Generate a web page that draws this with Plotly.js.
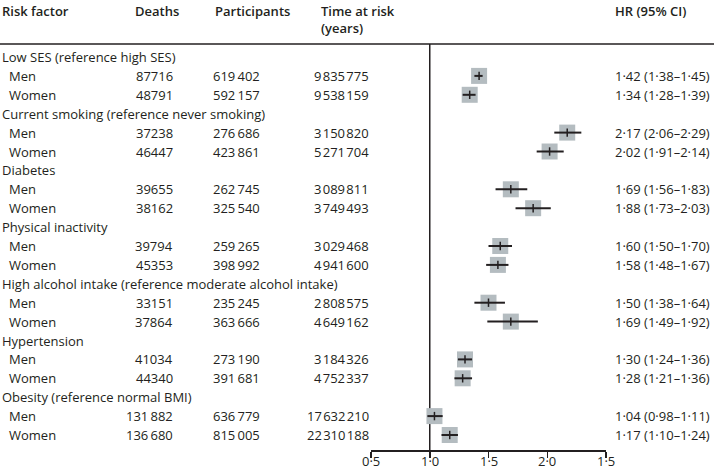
<!DOCTYPE html>
<html>
<head>
<meta charset="utf-8">
<script src="https://cdn.plot.ly/plotly-3.0.1.min.js"></script>
<style>html,body{margin:0;padding:0;background:#fff;}#chart{width:714px;height:470px;}</style>
</head>
<body>
<div id="chart"></div>
<script>
// ---- data ----
const groups = [
  "Low SES (reference high SES)",
  "Current smoking (reference never smoking)",
  "Diabetes",
  "Physical inactivity",
  "High alcohol intake (reference moderate alcohol intake)",
  "Hypertension",
  "Obesity (reference normal BMI)"
];
const sexes = ["Men", "Women"];
const deaths = [87716, 48791, 37238, 46447, 39655, 38162, 39794, 45353, 33151, 37864, 41034, 44340, 131882, 136680];
const participants = [619402, 592157, 276686, 423861, 262745, 325540, 259265, 398992, 235245, 363666, 273190, 391681, 636779, 815005];
const timeAtRisk = [9835775, 9538159, 3150820, 5271704, 3089811, 3749493, 3029468, 4941600, 2808575, 4649162, 3184326, 4752337, 17632210, 22310188];
const hr = [1.42, 1.34, 2.17, 2.02, 1.69, 1.88, 1.60, 1.58, 1.50, 1.69, 1.30, 1.28, 1.04, 1.17];
const ciLow = [1.38, 1.28, 2.06, 1.91, 1.56, 1.73, 1.50, 1.48, 1.38, 1.49, 1.24, 1.21, 0.98, 1.10];
const ciHigh = [1.45, 1.39, 2.29, 2.14, 1.83, 2.03, 1.70, 1.67, 1.64, 1.92, 1.36, 1.36, 1.11, 1.24];
const tickVals = [0.5, 1.0, 1.5, 2.0, 2.5];
const tickText = ["0·5", "1·0", "1·5", "2·0", "1·5"];
const headers = ["Risk factor", "Deaths", "Participants", "Time at risk<br>(years)", "HR (95% CI)"];

// ---- helpers ----
const W = 714, H = 470;
const FONT = "'Open Sans', 'Noto Sans', sans-serif";
const FS = 13;
const TXT = "#231f20";
function grp(n, sep) {
  const s = String(n);
  if (n < 100000) return s;
  return s.replace(/\B(?=(\d{3})+(?!\d))/g, sep);
}
function dec(v) { return v.toFixed(2).replace(".", "·"); }

// row indices
const rowY = [];
const headerY = [];
let r = 0;
groups.forEach(() => {
  headerY.push(r); r++;
  sexes.forEach(() => { rowY.push(r); r++; });
});

// pixel geometry
const rowTop = 57, rowStep = 18.9;
const plotTopPx = 44, plotBotPx = 450;
const yTopVal = (plotTopPx - rowTop) / rowStep;
const yBotVal = (plotBotPx - rowTop) / rowStep;
const xLeftPx = 371, xRightPx = 606;

const annotations = [];
function ann(text, xpx, y, anchor) {
  annotations.push({
    text: text, xref: "paper", x: xpx / W, yref: "y", y: y,
    xanchor: anchor, yanchor: "middle", showarrow: false,
    font: {family: FONT, size: FS, color: TXT}
  });
}

// headers
const hdrFont = {family: FONT, size: FS, color: TXT, weight: 600};
const hdrX = [0, 133, 213, 319, 613];
headers.forEach((h, i) => {
  annotations.push({
    text: h, xref: "paper", x: hdrX[i] / W, yref: "paper", y: 1,
    xanchor: "left", yanchor: "top", align: "left", showarrow: false,
    font: hdrFont
  });
});

groups.forEach((g, gi) => ann(g, 0, headerY[gi], "left"));
rowY.forEach((y, i) => {
  ann(sexes[i % 2], 7, y, "left");
  ann(grp(deaths[i], "\u2009"), 175, y, "right");
  ann(grp(participants[i], "\u2009"), 262, y, "right");
  ann(grp(timeAtRisk[i], "\u200A"), 371, y, "right");
  ann(dec(hr[i]) + " (" + dec(ciLow[i]) + "–" + dec(ciHigh[i]) + ")", 613, y, "left");
});

// axis tick labels (placed through the x scale)
tickVals.forEach((v, i) => {
  annotations.push({
    text: tickText[i], xref: "x", x: v, yref: "paper", y: (H - 461) / H,
    xanchor: "center", yanchor: "middle", showarrow: false, borderpad: 0,
    font: {family: FONT, size: FS, color: TXT}
  });
});

const traces = [
  {
    type: "scatter", mode: "markers", x: hr, y: rowY, hoverinfo: "skip",
    marker: {symbol: "square", size: 16, color: "#b4bcc0", line: {width: 0}},
    showlegend: false
  },
  {
    type: "scatter", mode: "markers", x: hr, y: rowY, hoverinfo: "skip",
    marker: {symbol: "line-ns", size: 6, color: TXT, line: {width: 1.5, color: TXT}},
    error_x: {type: "data", symmetric: false,
      array: hr.map((v, i) => ciHigh[i] - v),
      arrayminus: hr.map((v, i) => v - ciLow[i]),
      thickness: 2, width: 0, color: TXT},
    showlegend: false
  }
];

const layout = {
  width: W, height: H,
  margin: {l: 0, r: 0, t: 0, b: 0},
  paper_bgcolor: "#fff", plot_bgcolor: "rgba(0,0,0,0)",
  font: {family: FONT, size: FS, color: TXT},
  showlegend: false,
  xaxis: {
    domain: [xLeftPx / W, xRightPx / W],
    range: [0.5, 2.5], tickvals: tickVals, showticklabels: false,
    showgrid: false, zeroline: false, showline: true, linecolor: TXT, linewidth: 1.5,
    ticks: "outside", ticklen: 6, tickwidth: 1.5, tickcolor: TXT, fixedrange: true
  },
  yaxis: {
    domain: [(H - plotBotPx) / H, (H - plotTopPx) / H],
    range: [yBotVal, yTopVal], visible: false, showgrid: false, zeroline: false, fixedrange: true
  },
  shapes: [
    {type: "line", xref: "paper", yref: "paper", x0: 0, x1: 1,
     y0: (H - plotTopPx) / H, y1: (H - plotTopPx) / H, line: {color: TXT, width: 1.5}},
    {type: "line", xref: "x", yref: "paper", x0: 1, x1: 1,
     y0: (H - plotBotPx) / H, y1: (H - plotTopPx) / H, line: {color: TXT, width: 1.5}, layer: "below"}
  ],
  annotations: annotations
};

Plotly.newPlot("chart", traces, layout, {displayModeBar: false, staticPlot: true});
</script>
</body>
</html>
